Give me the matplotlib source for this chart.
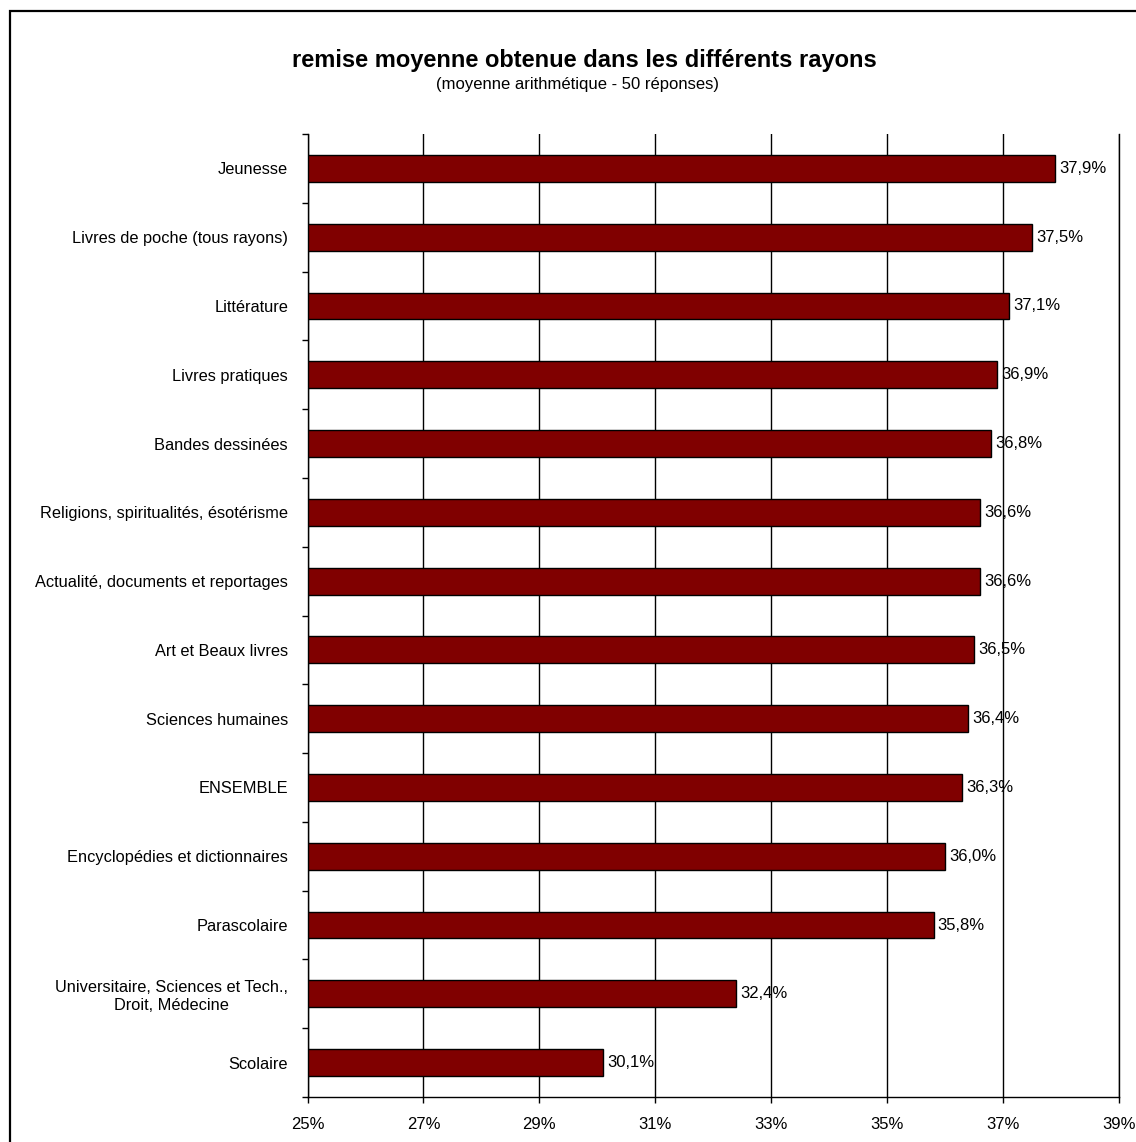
import matplotlib
matplotlib.use("Agg")
import matplotlib.pyplot as plt
from matplotlib.patches import Rectangle
import numpy as np

plt.rcParams['font.family'] = ['Liberation Sans', 'DejaVu Sans']

categories = [
    "Jeunesse",
    "Livres de poche (tous rayons)",
    "Littérature",
    "Livres pratiques",
    "Bandes dessinées",
    "Religions, spiritualités, ésotérisme",
    "Actualité, documents et reportages",
    "Art et Beaux livres",
    "Sciences humaines",
    "ENSEMBLE",
    "Encyclopédies et dictionnaires",
    "Parascolaire",
    "Universitaire, Sciences et Tech.,\nDroit, Médecine",
    "Scolaire",
]
values = [37.9, 37.5, 37.1, 36.9, 36.8, 36.6, 36.6, 36.5, 36.4, 36.3, 36.0, 35.8, 32.4, 30.1]
value_labels = ["37,9%", "37,5%", "37,1%", "36,9%", "36,8%", "36,6%", "36,6%",
                "36,5%", "36,4%", "36,3%", "36,0%", "35,8%", "32,4%", "30,1%"]
x_ticks = [25, 27, 29, 31, 33, 35, 37, 39]
x_tick_labels = ["25%", "27%", "29%", "31%", "33%", "35%", "37%", "39%"]
base = 25

W, H = 1136, 1142
fig = plt.figure(figsize=(W / 100, H / 100), dpi=100)
ax = fig.add_axes([307.5 / W, 1 - 1097 / H, (1119 - 307.5) / W, (1097 - 134) / H])

n = len(categories)
ypos = np.arange(n)
widths = [v - base for v in values]
ax.barh(ypos, widths, left=base, height=0.39, color="#800000",
        edgecolor="black", linewidth=1.0, zorder=3)

for y, v, lab in zip(ypos, values, value_labels):
    ax.text(v + 0.07, y, lab, va="center", ha="left", fontsize=12, zorder=4)

ax.set_xlim(25, 39)
ax.set_ylim(n - 0.5, -0.5)
ax.set_xticks(x_ticks)
ax.set_xticklabels(x_tick_labels, fontsize=12)
ax.set_yticks(ypos)
ax.set_yticklabels(categories, fontsize=11.8)
for t in ax.get_yticklabels():
    t.set_multialignment("center")
ax.set_yticks(np.arange(n + 1) - 0.5, minor=True)
ax.tick_params(axis="y", which="major", length=0, pad=14)
ax.tick_params(axis="y", which="minor", length=4.5, width=1, direction="out")
ax.tick_params(axis="x", length=4.5, width=1, direction="out", pad=10)

ax.grid(axis="x", color="black", linewidth=1, zorder=0)
ax.set_axisbelow(True)
ax.spines["top"].set_visible(False)
for s in ["left", "bottom", "right"]:
    ax.spines[s].set_linewidth(1)

fig.text(584 / W, 1 - 60 / H, "remise moyenne obtenue dans les différents rayons",
         ha="center", va="center", fontsize=17, fontweight="bold")
fig.text(578 / W, 1 - 84 / H, "(moyenne arithmétique - 50 réponses)",
         ha="center", va="center", fontsize=12)

fig.patches.append(Rectangle((10 / W, -0.05), 1.1, 1.05 - 10.5 / H,
                             transform=fig.transFigure, fill=False,
                             edgecolor="black", linewidth=1.6))

fig.savefig("out.png", dpi=100)
